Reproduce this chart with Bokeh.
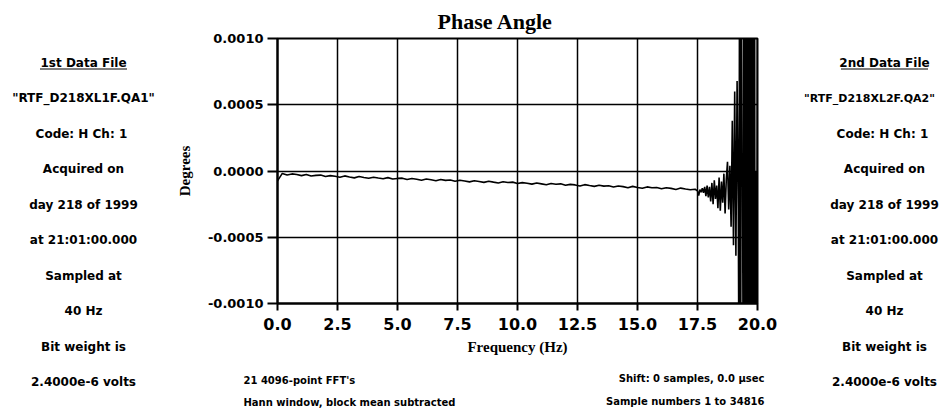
from bokeh.plotting import figure
from bokeh.models import Range1d, FixedTicker, ColumnDataSource
from bokeh.layouts import row, column
from bokeh.core.properties import value
from bokeh.embed import file_html
from bokeh.resources import INLINE

# ---------------- data ----------------
freq_low = [0.0, 0.2, 0.4, 0.6, 0.8, 1.0, 1.2, 1.4, 1.6, 1.8,
            2.0, 2.2, 2.4, 2.6, 2.8, 3.0, 3.2, 3.4, 3.6, 3.8,
            4.0, 4.2, 4.4, 4.6, 4.8, 5.0, 5.2, 5.4, 5.6, 5.8,
            6.0, 6.2, 6.4, 6.6, 6.8, 7.0, 7.2, 7.4, 7.6, 7.8,
            8.0, 8.2, 8.4, 8.6, 8.8, 9.0, 9.2, 9.4, 9.6, 9.8,
            10.0, 10.2, 10.4, 10.6, 10.8, 11.0, 11.2, 11.4, 11.6, 11.8,
            12.0, 12.2, 12.4, 12.6, 12.8, 13.0, 13.2, 13.4, 13.6, 13.8,
            14.0, 14.2, 14.4, 14.6, 14.8, 15.0, 15.2, 15.4, 15.6, 15.8,
            16.0, 16.2, 16.4, 16.6, 16.8, 17.0, 17.2, 17.4]
# phase in micro-degrees
phase_low_udeg = [-75, -18, -30, -22, -27, -35, -26, -38, -33, -31,
                  -42, -35, -40, -47, -37, -45, -52, -41, -49, -55,
                  -47, -53, -58, -50, -61, -56, -54, -64, -57, -62,
                  -70, -61, -66, -73, -64, -71, -68, -77, -70, -75,
                  -82, -74, -79, -86, -77, -84, -90, -81, -87, -84,
                  -95, -88, -92, -99, -90, -97, -104, -94, -100, -97,
                  -108, -101, -105, -113, -103, -110, -116, -107, -114, -111,
                  -121, -113, -118, -126, -116, -124, -130, -120, -127, -124,
                  -134, -126, -131, -139, -129, -136, -142, -138]

freq_mid = [17.50, 17.55, 17.60, 17.65, 17.70, 17.75, 17.80, 17.85, 17.90, 17.95,
            18.00, 18.05, 18.10, 18.15, 18.20, 18.25, 18.30, 18.35, 18.40, 18.45,
            18.50, 18.55, 18.60, 18.65, 18.70, 18.75, 18.80, 18.85, 18.90, 18.95,
            19.00, 19.05, 19.10, 19.15, 19.20]
phase_mid_udeg = [-150, -185, -140, -160, -130, -165, -120, -190, -110, -200,
                  -120, -230, -90, -250, -70, -210, -110, -280, -50, -300,
                  -80, -240, -20, -320, -60, 70, -290, 40, -420, 380,
                  -560, 600, -640, 680, -300]

freq_high = [19.225, 19.250, 19.275, 19.300, 19.325, 19.350, 19.375, 19.400, 19.425, 19.450,
             19.475, 19.500, 19.525, 19.550, 19.575, 19.600, 19.625, 19.650, 19.675, 19.700,
             19.725, 19.750, 19.775, 19.800, 19.825, 19.850, 19.875, 19.900, 19.925, 19.950,
             19.975, 20.000]
phase_high_udeg = [-1500, 1500, 50, -1500, 1500, -100, 120, -1500, 1500, -1500,
                   1500, -2500, 2500, -2500, 2500, -2500, 2500, -2500, 2500, -2500,
                   2500, -2500, 2500, -2500, 2500, -2500, 2500, -2500, 0, -100,
                   -1500, 1500]

xtick_vals = [0.0, 2.5, 5.0, 7.5, 10.0, 12.5, 15.0, 17.5, 20.0]
xtick_labels = ["0.0", "2.5", "5.0", "7.5", "10.0", "12.5", "15.0", "17.5", "20.0"]
ytick_vals = [-0.001, -0.0005, 0.0, 0.0005, 0.001]
ytick_labels = ["-0.0010", "-0.0005", "0.0000", "0.0005", "0.0010"]

left_info = ["1st Data File", "\"RTF_D218XL1F.QA1\"", "Code: H  Ch: 1", "Acquired on",
             "day 218 of 1999", "at 21:01:00.000", "Sampled at", "40 Hz",
             "Bit weight is", "2.4000e-6 volts"]
right_info = ["2nd Data File", "\"RTF_D218XL2F.QA2\"", "Code: H  Ch: 1", "Acquired on",
              "day 218 of 1999", "at 21:01:00.000", "Sampled at", "40 Hz",
              "Bit weight is", "2.4000e-6 volts"]
notes_left = ["21  4096-point FFT's", "Hann window, block mean subtracted"]
notes_right = ["Shift: 0 samples, 0.0 \u00b5sec", "Sample numbers 1 to 34816"]

freq = freq_low + freq_mid + freq_high
phase = [v * 1e-6 for v in phase_low_udeg + phase_mid_udeg + phase_high_udeg]

# ---------------- layout geometry (picture pixels) ----------------
W, H = 942, 410
LEFT_W = 170           # left text column
RIGHT_X = 790          # right text column starts here
MAIN_H = 362           # main chart height, notes strip below
FL, FT, FR, FB = 277, 38, 757, 303   # frame edges

FONT = "DejaVu Sans"
SERIF = "Liberation Serif"


def text_fig(width, height):
    f = figure(width=width, height=height, output_backend="svg", toolbar_location=None,
               x_range=Range1d(0, width), y_range=Range1d(height, 0),
               min_border=0, x_axis_location=None, y_axis_location=None,
               background_fill_color="white", border_fill_color="white",
               frame_align=False)
    f.outline_line_color = None
    f.grid.visible = False
    return f


# ---------------- main chart ----------------
main_w = RIGHT_X - LEFT_W
p = figure(width=main_w, height=MAIN_H, output_backend="svg", toolbar_location=None,
           x_range=Range1d(0, 20), y_range=Range1d(-0.001, 0.001),
           min_border_left=FL - LEFT_W, min_border_right=RIGHT_X - FR,
           min_border_top=FT, min_border_bottom=MAIN_H - FB,
           background_fill_color="white", border_fill_color="white",
           title="Phase Angle", frame_align=False)

p.title.text_font = SERIF
p.title.text_font_style = "bold"
p.title.text_font_size = "22px"
p.title.text_color = "black"
p.title.align = "left"
p.title.offset = 160
p.title.standoff = 9

p.outline_line_color = "black"
p.outline_line_width = 2

p.xaxis.ticker = FixedTicker(ticks=xtick_vals)
p.xaxis.major_label_overrides = dict(zip(xtick_vals, xtick_labels))
p.yaxis.ticker = FixedTicker(ticks=ytick_vals)
p.yaxis.major_label_overrides = dict(zip(ytick_vals, ytick_labels))

for ax in (p.xaxis[0], p.yaxis[0]):
    ax.axis_line_color = "black"
    ax.axis_line_width = 2
    ax.major_tick_line_color = "black"
    ax.major_tick_line_width = 2
    ax.major_tick_in = 0
    ax.minor_tick_line_color = None
    ax.major_label_text_font = FONT
    ax.major_label_text_font_style = "bold"
    ax.major_label_text_color = "black"
    ax.axis_label_text_font = SERIF
    ax.axis_label_text_font_style = "bold"
    ax.axis_label_text_color = "black"

p.xaxis.major_tick_out = 7
p.xaxis.major_label_standoff = 7
p.xaxis.major_label_text_font_size = "16px"
p.xaxis.axis_label = "Frequency (Hz)"
p.xaxis.axis_label_text_font_size = "15px"
p.xaxis.axis_label_standoff = 6

p.yaxis.major_tick_out = 10
p.yaxis.major_label_standoff = 4
p.yaxis.major_label_text_font_size = "13px"
p.yaxis.axis_label = "Degrees"
p.yaxis.axis_label_text_font_size = "15px"
p.yaxis.axis_label_standoff = 12

p.grid.grid_line_color = "black"
p.grid.grid_line_width = 1.5
p.grid.grid_line_alpha = 1.0

p.line(freq, phase, line_color="black", line_width=1.6)

# ---------------- side columns ----------------
row_y = [62, 97.5, 133, 168.5, 204, 239.5, 275, 310.5, 346, 381.5]
LEFT_CX = 83
RIGHT_CX = 884

left_fig = text_fig(LEFT_W, H)
left_src = ColumnDataSource(dict(x=[LEFT_CX] * len(left_info), y=row_y, text=left_info))
left_fig.text(x="x", y="y", text="text", source=left_src, text_align="center",
              text_baseline="middle", text_font=value(FONT), text_font_style="bold",
              text_font_size="12px", text_color="black")
left_fig.line([LEFT_CX - 43.5, LEFT_CX + 43.5], [68.5, 68.5], line_color="black", line_width=1.2)

right_w = W - RIGHT_X
right_fig = text_fig(right_w, H)
right_x = [RIGHT_CX - RIGHT_X] * len(right_info)
right_x[1] = 869 - RIGHT_X
right_size = ["12px"] * len(right_info)
right_size[1] = "11px"
right_src = ColumnDataSource(dict(x=right_x, y=row_y, text=right_info, size=right_size))
right_fig.text(x="x", y="y", text="text", source=right_src, text_align="center",
               text_baseline="middle", text_font=value(FONT), text_font_style="bold",
               text_font_size="size", text_color="black")
right_fig.line([RIGHT_CX - 43.5 - RIGHT_X, RIGHT_CX + 43.5 - RIGHT_X], [68.5, 68.5],
               line_color="black", line_width=1.2)

# ---------------- notes below the chart ----------------
notes_h = H - MAIN_H
notes_fig = text_fig(main_w, notes_h)
nl_src = ColumnDataSource(dict(x=[243 - LEFT_W] * 2, y=[380 - MAIN_H, 402 - MAIN_H], text=notes_left))
notes_fig.text(x="x", y="y", text="text", source=nl_src, text_align="left",
               text_baseline="middle", text_font=value(FONT), text_font_style="bold",
               text_font_size="10px", text_color="black")
nr_src = ColumnDataSource(dict(x=[764 - LEFT_W] * 2, y=[378 - MAIN_H, 401 - MAIN_H], text=notes_right))
notes_fig.text(x="x", y="y", text="text", source=nr_src, text_align="right",
               text_baseline="middle", text_font=value(FONT), text_font_style="bold",
               text_font_size="10px", text_color="black")

layout = row(left_fig, column(p, notes_fig, spacing=0), right_fig, spacing=0)

open("out.html", "w").write(file_html(layout, INLINE))
